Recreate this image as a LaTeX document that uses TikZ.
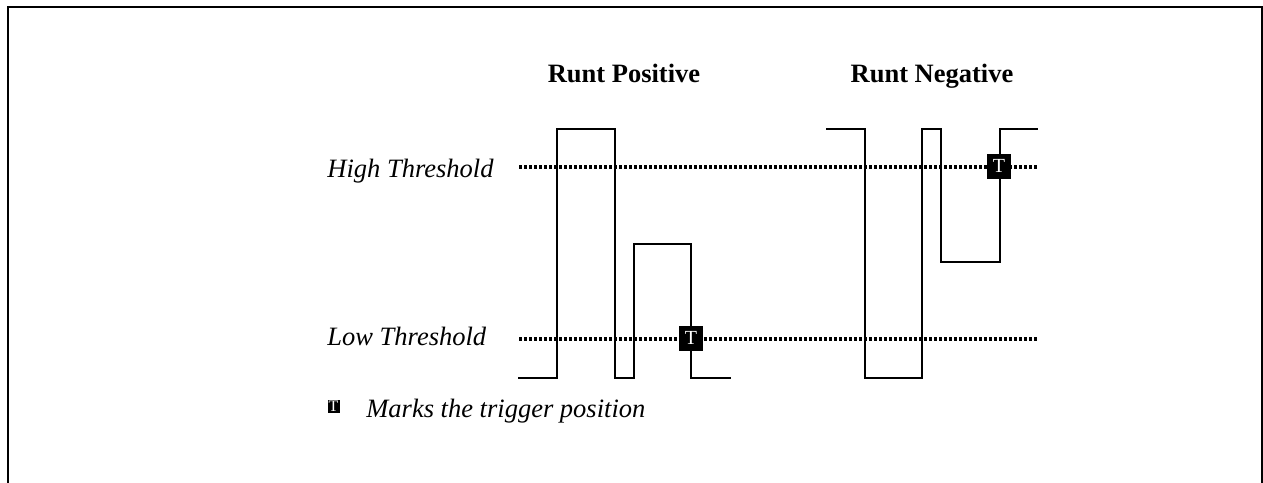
\documentclass[tikz,border=0pt]{standalone}
\usepackage{fontspec}
\setmainfont{Liberation Serif}
\tikzset{
  wave/.style={line width=0.8pt, line join=miter},
  level/.style={line width=1.6pt, dash pattern=on 1.6pt off 0.9pt},
  trig/.style={fill=black, text=white, minimum width=12pt, minimum height=12.5pt, inner sep=0pt, font=\fontsize{10}{10}\selectfont},
  title/.style={font=\fontsize{13.25}{15}\selectfont\bfseries, inner sep=0pt},
  lbl/.style={font=\fontsize{13.25}{15}\selectfont\itshape, inner sep=0pt}
}

\begin{document}
\begin{tikzpicture}[x=0.5pt,y=-0.5pt]
  \useasboundingbox (0,0) rectangle (1263,482);
  \begin{scope}
    \clip (0,0) rectangle (1263,482);
    \draw[line width=1pt] (8,7) rectangle (1262,520);
  \end{scope}

  \node[title,anchor=base] (posTitle) at (624,82) {Runt Positive};
  \node[title,anchor=base] (negTitle) at (932,82) {Runt Negative};
  \node[lbl,anchor=base west] (hiLbl) at (327,177) {High Threshold};
  \node[lbl,anchor=base west] (loLbl) at (327,345) {Low Threshold};

  \coordinate (hiL) at (519,167);
  \coordinate (hiR) at (1038,167);
  \coordinate (loL) at (519,339);
  \coordinate (loR) at (1038,339);
  \draw[level] (hiL) -- (hiR);
  \draw[level] (loL) -- (loR);

  \draw[wave] (518,378) -| (557,129) -| (615,378) -| (634,244) -| (691,378) -- (731,378);
  \draw[wave] (826,129) -| (865,378) -| (922,129) -| (941,262) -| (1000,129) -- (1038,129);

  \node[trig] (trigPos) at (691,338) {T};
  \node[trig] (trigNeg) at (999,166) {T};

  \node[trig,minimum width=6pt,minimum height=6.5pt,font=\fontsize{8}{8}\selectfont] (legMark) at (333.5,406.5) {T};
  \node[lbl,anchor=base west] (legText) at (366,417) {Marks the trigger position};
\end{tikzpicture}
\end{document}
